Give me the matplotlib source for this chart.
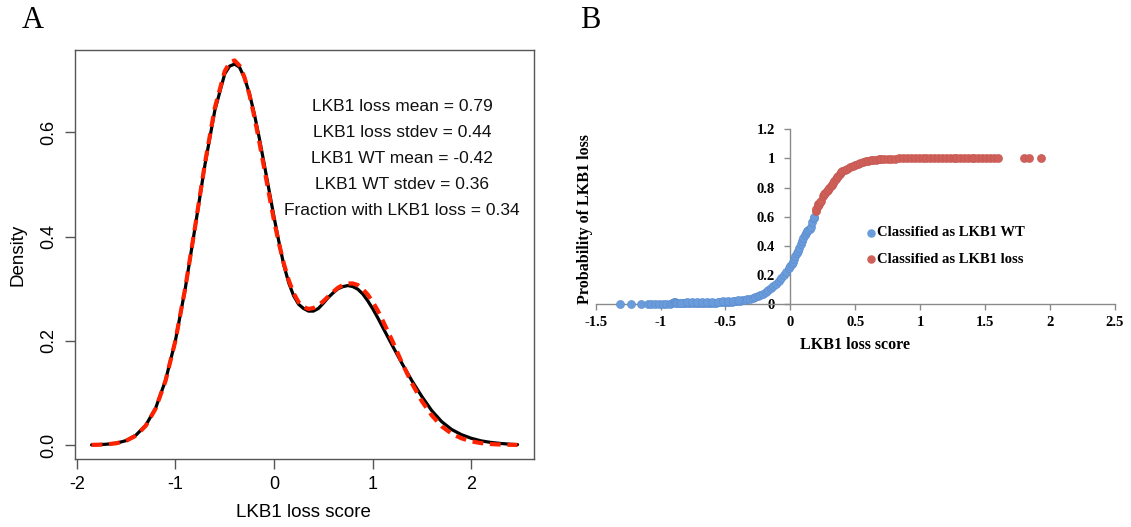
import matplotlib
matplotlib.use("Agg")
import matplotlib.pyplot as plt
import numpy as np

# ---------------- Panel A data ----------------
dens_x = [-1.85, -1.8, -1.7, -1.6, -1.5, -1.4, -1.3, -1.2, -1.1, -1.0, -0.9, -0.8, -0.7, -0.6,
          -0.5, -0.45, -0.4, -0.35, -0.3, -0.25, -0.2, -0.15, -0.1, -0.05, 0.0, 0.05, 0.1,
          0.15, 0.2, 0.25, 0.3, 0.35, 0.4, 0.45, 0.5, 0.55, 0.6, 0.65, 0.7, 0.75, 0.8, 0.85,
          0.9, 0.95, 1.0, 1.05, 1.1, 1.15, 1.2, 1.3, 1.4, 1.5, 1.6, 1.7, 1.8, 1.9, 2.0, 2.1,
          2.2, 2.3, 2.4, 2.47]
kde_y = [0.0003, 0.0006, 0.0015, 0.0035, 0.0085, 0.019, 0.038, 0.071, 0.124, 0.200, 0.300,
         0.418, 0.538, 0.642, 0.712, 0.727, 0.731, 0.725, 0.705, 0.675, 0.636, 0.590, 0.540,
         0.489, 0.438, 0.390, 0.345, 0.311, 0.286, 0.270, 0.262, 0.257, 0.257, 0.262, 0.272,
         0.283, 0.292, 0.300, 0.304, 0.306, 0.304, 0.299, 0.290, 0.277, 0.262, 0.245, 0.227,
         0.209, 0.191, 0.156, 0.123, 0.093, 0.066, 0.045, 0.030, 0.020, 0.013, 0.008, 0.005,
         0.003, 0.0015, 0.0008]
fit_y = [0.0003, 0.0005, 0.0013, 0.0034, 0.0081, 0.018, 0.037, 0.070, 0.123, 0.200, 0.301,
         0.419, 0.541, 0.647, 0.717, 0.734, 0.738, 0.728, 0.706, 0.673, 0.631, 0.583, 0.532,
         0.481, 0.431, 0.387, 0.348, 0.316, 0.291, 0.274, 0.265, 0.261, 0.263, 0.268, 0.276,
         0.285, 0.294, 0.302, 0.307, 0.310, 0.310, 0.307, 0.299, 0.289, 0.275, 0.259, 0.240,
         0.220, 0.200, 0.157, 0.118, 0.084, 0.057, 0.036, 0.022, 0.013, 0.007, 0.0037, 0.0018,
         0.0009, 0.0004, 0.0002]
stats_text = ["LKB1 loss mean = 0.79", "LKB1 loss stdev = 0.44", "LKB1 WT mean = -0.42",
              "LKB1 WT stdev = 0.36", "Fraction with LKB1 loss = 0.34"]
stats_y = [0.65, 0.60, 0.55, 0.50, 0.45]
a_xticks = [-2, -1, 0, 1, 2]
a_yticks = [0.0, 0.2, 0.4, 0.6]

# ---------------- Panel B data ----------------
wt_x = [-1.31, -1.23, -1.15, -1.10, -1.07, -1.04, -1.01, -0.98, -0.96, -0.93, -0.91, -0.90,
        -0.89, -0.88, -0.87, -0.85, -0.83, -0.81, -0.79, -0.77, -0.75, -0.73, -0.71, -0.69,
        -0.67, -0.65, -0.63, -0.61, -0.59, -0.57, -0.55, -0.53, -0.51, -0.49, -0.47, -0.45,
        -0.43, -0.41, -0.39, -0.37, -0.35, -0.33, -0.31, -0.29, -0.27, -0.25, -0.23, -0.21,
        -0.19, -0.17, -0.15, -0.13, -0.11, -0.09, -0.07, -0.05, -0.03, -0.01, 0.00, 0.01,
        0.02, 0.03, 0.04, 0.05, 0.06, 0.07, 0.08, 0.09, 0.10, 0.11, 0.12, 0.13, 0.14, 0.15,
        0.16, 0.17, 0.18, 0.185,
        -0.84, -0.80, -0.76, -0.72, -0.68, -0.64, -0.60, -0.56, -0.52, -0.48, -0.44, -0.40]
wt_y = [0.000, 0.000, 0.000, 0.000, 0.000, 0.000, 0.001, 0.001, 0.001, 0.002, 0.010, 0.012,
        0.011, 0.010, 0.004, 0.004, 0.004, 0.005, 0.005, 0.005, 0.006, 0.006, 0.006, 0.007,
        0.007, 0.008, 0.008, 0.009, 0.009, 0.010, 0.011, 0.012, 0.013, 0.014, 0.016, 0.017,
        0.019, 0.021, 0.023, 0.026, 0.029, 0.033, 0.037, 0.042, 0.048, 0.055, 0.063, 0.072,
        0.082, 0.094, 0.107, 0.122, 0.139, 0.158, 0.178, 0.200, 0.222, 0.245, 0.258, 0.272,
        0.290, 0.308, 0.327, 0.347, 0.367, 0.388, 0.410, 0.432, 0.452, 0.472, 0.490, 0.500,
        0.508, 0.515, 0.530, 0.565, 0.590, 0.598,
        0.010, 0.011, 0.011, 0.012, 0.012, 0.013, 0.014, 0.016, 0.018, 0.020, 0.024, 0.028]
loss_x = [0.195, 0.20, 0.21, 0.215, 0.22, 0.23, 0.24, 0.25, 0.26, 0.27, 0.28, 0.29, 0.30,
          0.31, 0.32, 0.33, 0.34, 0.35, 0.36, 0.37, 0.38, 0.39, 0.40, 0.42, 0.44, 0.46, 0.48,
          0.50, 0.52, 0.54, 0.56, 0.58, 0.60, 0.62, 0.64, 0.66, 0.68, 0.70, 0.72, 0.75, 0.78,
          0.81, 0.84, 0.87, 0.90, 0.93, 0.96, 0.99, 1.02, 1.05, 1.08, 1.11, 1.14, 1.17, 1.20,
          1.23, 1.26, 1.28, 1.31, 1.34, 1.37, 1.40, 1.42, 1.45, 1.48, 1.51, 1.54, 1.57, 1.60,
          1.80, 1.84, 1.93]
loss_y = [0.640, 0.652, 0.670, 0.685, 0.690, 0.700, 0.705, 0.745, 0.755, 0.765, 0.775, 0.783,
          0.795, 0.808, 0.820, 0.832, 0.845, 0.860, 0.872, 0.880, 0.895, 0.905, 0.912, 0.920,
          0.930, 0.940, 0.950, 0.958, 0.965, 0.970, 0.976, 0.980, 0.984, 0.987, 0.990, 0.992,
          0.994, 0.995, 0.997, 0.998, 0.999, 0.999, 1.0, 1.0, 1.0, 1.0, 1.0, 1.0, 1.0, 1.0,
          1.0, 1.0, 1.0, 1.0, 1.0, 1.0, 1.0, 1.0, 1.0, 1.0, 1.0, 1.0, 1.0, 1.0, 1.0, 1.0, 1.0,
          1.0, 1.0, 1.0, 1.0, 1.0]
b_xticks = [-1.5, -1, -0.5, 0, 0.5, 1, 1.5, 2, 2.5]
b_xlabels = ["-1.5", "-1", "-0.5", "0", "0.5", "1", "1.5", "2", "2.5"]
b_yticks = [0, 0.2, 0.4, 0.6, 0.8, 1.0, 1.2]
b_ylabels = ["0", "0.2", "0.4", "0.6", "0.8", "1", "1.2"]
legend_labels = ["Classified as LKB1 WT", "Classified as LKB1 loss"]

W, H = 1131, 527
fig = plt.figure(figsize=(W / 100, H / 100), dpi=100)

sans = "Liberation Sans"
serif = "Liberation Serif"

# ---------------- Panel A ----------------
axA = fig.add_axes([75 / W, 1 - 459 / H, (534 - 75) / W, (459 - 50) / H])
axA.plot(dens_x, kde_y, color="black", lw=2.3, solid_capstyle="round",
         solid_joinstyle="round", zorder=2)
axA.plot(dens_x, fit_y, color="#FF2200", lw=3.0, dashes=(2.6, 1.6), zorder=3)
axA.set_xlim(-2.018, 2.637)
axA.set_ylim(-0.0268, 0.758)
for s in axA.spines.values():
    s.set_color("#555555")
    s.set_linewidth(1.0)
axA.set_xticks(a_xticks)
axA.set_xticklabels([str(t) for t in a_xticks], fontfamily=sans, fontsize=13)
axA.set_yticks(a_yticks)
axA.set_yticklabels(["%.1f" % t for t in a_yticks], fontfamily=sans, fontsize=13,
                    rotation=90, va="center")
axA.tick_params(axis="both", direction="out", length=7, width=1.0, color="#555555")
axA.tick_params(axis="x", pad=5)
axA.tick_params(axis="y", pad=6)
for t, y in zip(stats_text, stats_y):
    axA.text(1.3, y, t, ha="center", va="center", fontfamily=sans, fontsize=12.5, color="#111111")
axA.text(-0.124, 0.5, "Density", transform=axA.transAxes, rotation=90, ha="center",
         va="center", fontfamily=sans, fontsize=13.5)
axA.text(0.498, -0.132, "LKB1 loss score", transform=axA.transAxes, ha="center",
         va="center", fontfamily=sans, fontsize=13.5)

# ---------------- Panel B ----------------
x0, x1 = 595.7, 1114.6
y0, y1 = 304.0, 129.3
axB = fig.add_axes([x0 / W, 1 - y0 / H, (x1 - x0) / W, (y0 - y1) / H])
axB.set_xlim(-1.5, 2.5)
axB.set_ylim(0, 1.2)
msize = 34
axB.scatter(wt_x, wt_y, s=msize, color="#6A9BDB", edgecolors="#5B8DD0", linewidths=0.4,
            zorder=3, clip_on=False)
axB.scatter(loss_x, loss_y, s=msize, color="#D0605A", edgecolors="#C4554F", linewidths=0.4,
            zorder=3, clip_on=False)
axB.spines["top"].set_visible(False)
axB.spines["right"].set_visible(False)
axB.spines["left"].set_position(("data", 0))
for s in ("left", "bottom"):
    axB.spines[s].set_color("#8A8A8A")
    axB.spines[s].set_linewidth(1.0)
axB.set_xticks(b_xticks)
axB.set_xticklabels(b_xlabels, fontfamily=serif, fontweight="bold", fontsize=10.5)
axB.set_yticks(b_yticks)
axB.set_yticklabels(b_ylabels, fontfamily=serif, fontweight="bold", fontsize=10.5)
axB.tick_params(axis="both", direction="out", length=4, width=1.0, color="#8A8A8A")
axB.tick_params(axis="x", pad=5)
axB.tick_params(axis="y", pad=7)
axB.text((855.4 - x0) / (x1 - x0), -(345 - y0) / (y0 - y1), "LKB1 loss score",
         transform=axB.transAxes, ha="center", va="center", fontfamily=serif,
         fontweight="bold", fontsize=11.5)
axB.text((585 - x0) / (x1 - x0), (y0 - 219) / (y0 - y1), "Probability of LKB1 loss",
         transform=axB.transAxes, rotation=90, ha="center", va="center", fontfamily=serif,
         fontweight="bold", fontsize=11.5)
# legend
leg_colors = ["#6A9BDB", "#D0605A"]
leg_y = [0.489, 0.307]
for lab, c, ly in zip(legend_labels, leg_colors, leg_y):
    axB.scatter([0.619], [ly], s=26, color=c, zorder=4)
    axB.text(0.672, ly, lab, ha="left", va="center", fontfamily=serif, fontweight="bold",
             fontsize=10.5)

# panel labels
fig.text(33 / W, 1 - 21 / H, "A", ha="center", va="center", fontfamily=serif, fontsize=22)
fig.text(590 / W, 1 - 21 / H, "B", ha="center", va="center", fontfamily=serif, fontsize=22)

fig.savefig("out.png", dpi=100)
